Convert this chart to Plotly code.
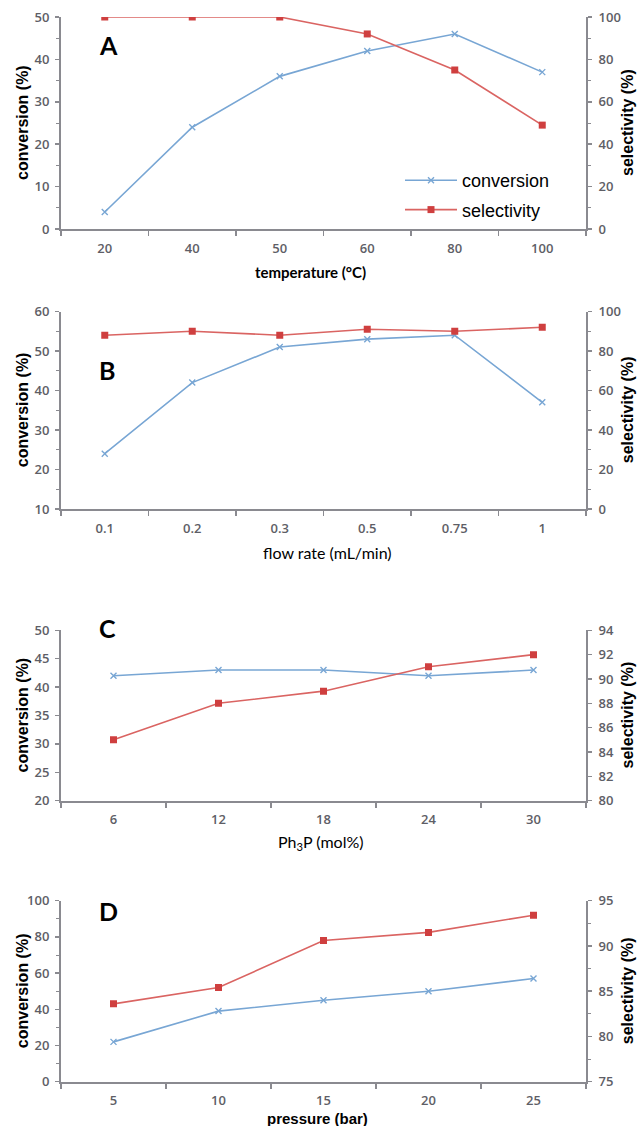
import plotly.graph_objects as go

# ---------------- data ----------------
temp_labels = ["20", "40", "50", "60", "80", "100"]
temp_conv = [4, 24, 36, 42, 46, 37]
temp_sel = [100, 100, 100, 92, 75, 49]

flow_labels = ["0.1", "0.2", "0.3", "0.5", "0.75", "1"]
flow_conv = [24, 42, 51, 53, 54, 37]
flow_sel = [88, 90, 88, 91, 90, 92]

ph3p_labels = ["6", "12", "18", "24", "30"]
ph3p_conv = [42, 43, 43, 42, 43]
ph3p_sel = [85, 88, 89, 91, 92]

pres_labels = ["5", "10", "15", "20", "25"]
pres_conv = [22, 39, 45, 50, 57]
pres_sel = [83.6, 85.4, 90.6, 91.5, 93.4]

panel_letters = ["A", "B", "C", "D"]
x_titles = ["temperature (°C)", "flow rate (mL/min)", "Ph<sub>3</sub>P (mol%)", "pressure (bar)"]
series_names = ["conversion", "selectivity"]

# ---------------- layout config ----------------
W, H = 637, 1126
ML, MR = 61, 51
PW = W - ML - MR

panels = [
    dict(cats=temp_labels, conv=temp_conv, sel=temp_sel,
         top=17, bot=229, yl=[0, 50], dl=10, ml=5, yr=[0, 100], dr=20, mr=10,
         xt_y=272, xt_x=310, xt_font=dict(family="Lato", size=15, color="black", weight="bold"),
         let_y=45),
    dict(cats=flow_labels, conv=flow_conv, sel=flow_sel,
         top=311.5, bot=509, yl=[10, 60], dl=10, ml=5, yr=[0, 100], dr=20, mr=10,
         xt_y=552, xt_x=327, xt_font=dict(family="Lato", size=16, color="black", weight="normal"),
         let_y=370),
    dict(cats=ph3p_labels, conv=ph3p_conv, sel=ph3p_sel,
         top=630.3, bot=800.7, yl=[20, 50], dl=5, ml=None, yr=[80, 94], dr=2, mr=None,
         xt_y=842, xt_x=321, xt_font=dict(family="Lato", size=16, color="black", weight="normal"),
         let_y=628),
    dict(cats=pres_labels, conv=pres_conv, sel=pres_sel,
         top=900.7, bot=1081.7, yl=[0, 100], dl=20, ml=10, yr=[75, 95], dr=5, mr=2.5,
         xt_y=1118, xt_x=317, xt_font=dict(family="Liberation Sans", size=15, color="black", weight="bold"),
         let_y=911),
]

AX = "#8a8a90"
TICKFONT = dict(family="Open Sans", size=13, color="#5e5e66", weight=600)
BLUE = "#78a6d4"
RED_LINE = "#da6462"
RED_MK = "#cf3f3f"


def px_x(p):
    return (p - ML) / PW


def px_y(p):
    return 1 - p / H


fig = go.Figure()
layout = dict(
    template="none",
    width=W, height=H,
    margin=dict(l=ML, r=MR, t=0, b=0, autoexpand=False),
    paper_bgcolor="white", plot_bgcolor="white",
    showlegend=True,
    legend=dict(x=px_x(400), y=px_y(162), xanchor="left", yanchor="top",
                font=dict(family="Liberation Sans", size=18, color="black"),
                itemwidth=52, tracegroupgap=3, bgcolor="rgba(0,0,0,0)", borderwidth=0),
    annotations=[],
)

for i, p in enumerate(panels):
    n = i + 1
    xa = "x" if n == 1 else f"x{n}"
    yl = f"y{2*n-1}" if n > 1 else "y"
    yr = f"y{2*n}"
    xkey = "xaxis" if n == 1 else f"xaxis{n}"
    ylkey = "yaxis" if n == 1 else f"yaxis{2*n-1}"
    yrkey = f"yaxis{2*n}"
    dom = [px_y(p["bot"]), px_y(p["top"])]
    ncat = len(p["cats"])

    layout[xkey] = dict(
        domain=[0, 1], anchor=yl, type="category", range=[-0.5, ncat - 0.5],
        showline=True, linecolor=AX, linewidth=2, showgrid=False, zeroline=False,
        ticks="outside", ticklen=5, tickwidth=1.5, tickcolor=AX, tickson="boundaries",
        tickfont=TICKFONT, ticklabelstandoff=6, automargin=False, fixedrange=True,
    )
    left = dict(
        domain=dom, anchor=xa, range=p["yl"], dtick=p["dl"], tick0=p["yl"][0],
        showline=True, linecolor=AX, linewidth=2, showgrid=False, zeroline=False,
        ticks="outside", ticklen=4, tickwidth=1.5, tickcolor=AX,
        tickfont=TICKFONT, ticklabelstandoff=3, automargin=False, fixedrange=True,
    )
    if p["ml"]:
        left["minor"] = dict(dtick=p["ml"], ticks="outside", ticklen=3, tickwidth=1,
                             tickcolor=AX, showgrid=False)
    layout[ylkey] = left
    right = dict(
        domain=dom, anchor=xa, overlaying=yl, side="right", range=p["yr"], dtick=p["dr"],
        tick0=p["yr"][0],
        showline=True, linecolor=AX, linewidth=2, showgrid=False, zeroline=False,
        ticks="outside", ticklen=4, tickwidth=1.5, tickcolor=AX,
        tickfont=TICKFONT, ticklabelstandoff=4, automargin=False, fixedrange=True,
    )
    if p["mr"]:
        right["minor"] = dict(dtick=p["mr"], ticks="outside", ticklen=3, tickwidth=1,
                              tickcolor=AX, showgrid=False)
    layout[yrkey] = right

    fig.add_trace(go.Scatter(
        x=p["cats"], y=p["conv"], xaxis=xa, yaxis=yl, name=series_names[0],
        mode="lines+markers", line=dict(color=BLUE, width=1.6),
        marker=dict(symbol="x-thin", size=6, line=dict(color=BLUE, width=1.4)),
        showlegend=(n == 1), legendgroup="conv", legendrank=1,
    ))
    fig.add_trace(go.Scatter(
        x=p["cats"], y=p["sel"], xaxis=xa, yaxis=yr, name=series_names[1],
        mode="lines+markers", line=dict(color=RED_LINE, width=1.6),
        marker=dict(symbol="square", size=7, color=RED_MK),
        showlegend=(n == 1), legendgroup="sel", legendrank=2,
    ))

    mid = (p["top"] + p["bot"]) / 2
    ann = layout["annotations"]
    ann.append(dict(text="conversion (%)", xref="paper", yref="paper",
                    x=px_x(22), y=px_y(mid), textangle=-90, showarrow=False,
                    xanchor="center", yanchor="middle",
                    font=dict(family="Liberation Sans", size=16, color="black", weight="bold")))
    ann.append(dict(text="selectivity (%)", xref="paper", yref="paper",
                    x=px_x(627), y=px_y(mid), textangle=-90, showarrow=False,
                    xanchor="center", yanchor="middle",
                    font=dict(family="Liberation Sans", size=16, color="black", weight="bold")))
    ann.append(dict(text=x_titles[i], xref="paper", yref="paper",
                    x=px_x(p["xt_x"]), y=px_y(p["xt_y"]), showarrow=False,
                    xanchor="center", yanchor="middle", font=p["xt_font"]))
    ann.append(dict(text=panel_letters[i], xref="paper", yref="paper",
                    x=px_x(97), y=px_y(p["let_y"]), showarrow=False,
                    xanchor="left", yanchor="middle",
                    font=dict(family="Lato", size=25, color="black", weight="bold")))

fig.update_layout(**layout)
fig.write_html(
    "out.html",
    config={"displayModeBar": False, "staticPlot": True},
    post_script="document.body.style.margin='0';document.body.style.overflow='hidden';",
)
